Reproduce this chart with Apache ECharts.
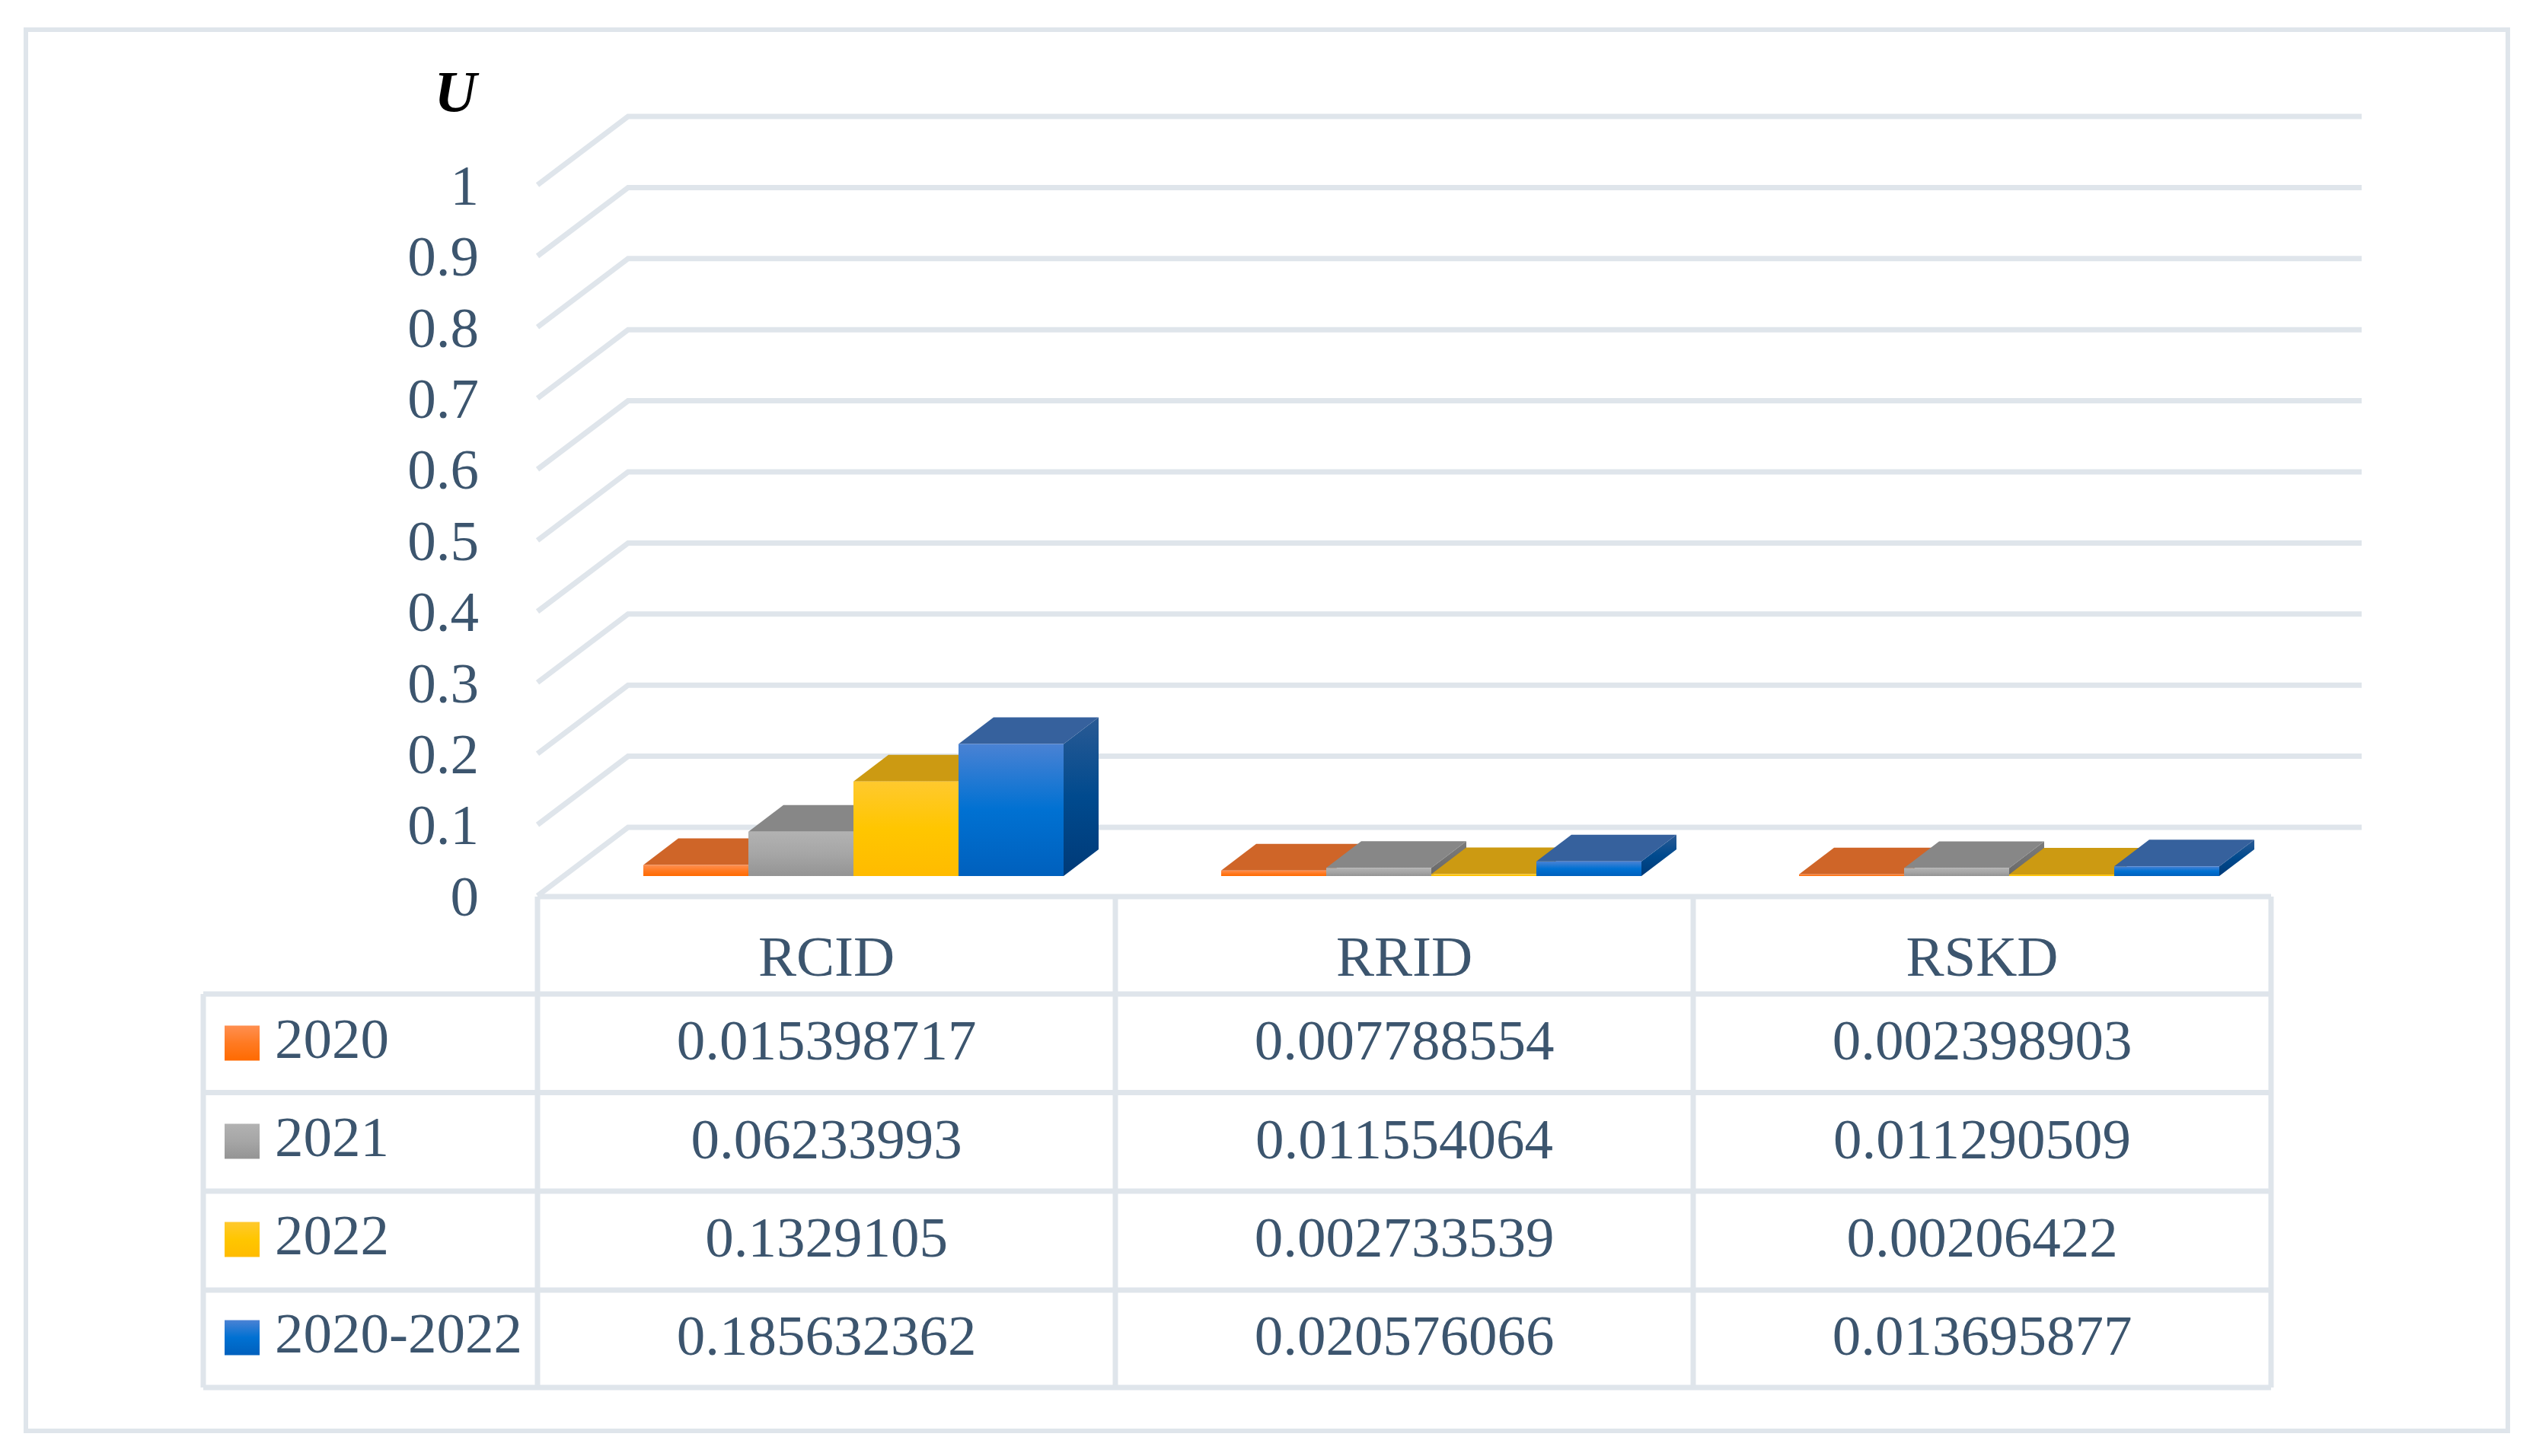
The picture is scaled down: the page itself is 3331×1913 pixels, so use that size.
<!DOCTYPE html>
<html>
<head>
<meta charset="utf-8">
<style>html,body{margin:0;padding:0;background:#fff}#c{width:3331px;height:1913px}</style>
<script src="https://cdn.jsdelivr.net/npm/echarts@6/dist/echarts.min.js"></script>
</head>
<body>
<div id="c"></div>
<script>
const categories = ['RCID', 'RRID', 'RSKD'];
const years = ['2020', '2021', '2022', '2020-2022'];
const values2020 = [0.015398717, 0.007788554, 0.002398903];
const values2021 = [0.06233993, 0.011554064, 0.011290509];
const values2022 = [0.1329105, 0.002733539, 0.00206422];
const valuesAll = [0.185632362, 0.020576066, 0.013695877];
const yTicks = [0, 0.1, 0.2, 0.3, 0.4, 0.5, 0.6, 0.7, 0.8, 0.9, 1];
const seriesValues = [values2020, values2021, values2022, valuesAll];

const TEXT = '#3c556e', RULE = '#dfe5eb', FONT = '"Liberation Serif", serif', FS = 75;
const grad = (stops) => ({type: 'linear', x: 0, y: 0, x2: 0, y2: 1,
  colorStops: stops.map((c, i) => ({offset: i / (stops.length - 1), color: c}))});
const palette = [
  {front: ['#ff8f50', '#ff7a22', '#ff6a00'], top: '#cf6528', side: ['#b35a20', '#a04c10']},
  {front: ['#b2b2b2', '#a6a6a6', '#949494'], top: '#878787', side: ['#7c7c7c', '#686868']},
  {front: ['#ffc92e', '#ffc600', '#ffbb00'], top: '#cc9a12', side: ['#b98d10', '#a07a00']},
  {front: ['#4a82d4', '#0071d2', '#0060bd'], top: '#36619d', side: ['#2a5a94', '#004a8e', '#003a78']}
];

// perspective of the pseudo-3D scene
const WALL_DX = 119, WALL_DY = -90, BAR_DX = 35.5, BAR_DY = -26, DEPTH_X = 46, DEPTH_Y = -35;

function renderWall(params, api) {
  const cs = params.coordSys;
  const y = api.coord([0, api.value(1)])[1];
  return {type: 'polyline', silent: true,
    shape: {points: [[cs.x, y], [cs.x + WALL_DX, y + WALL_DY], [cs.x + cs.width + WALL_DX, y + WALL_DY]]},
    style: {stroke: RULE, lineWidth: 7, fill: null, lineJoin: 'miter'}};
}

function barRenderer(idx) {
  return function (params, api) {
    const base = api.coord([api.value(0), 0]);
    const head = api.coord([api.value(0), api.value(1)]);
    const w = api.size([1, 0])[0] / 5.5;
    const x = base[0] - 2 * w + idx * w + BAR_DX;
    const y0 = base[1] + BAR_DY, y1 = head[1] + BAR_DY;
    const p = palette[idx];
    return {type: 'group', children: [
      {type: 'polygon', silent: true,
        shape: {points: [[x + w, y1], [x + w + DEPTH_X, y1 + DEPTH_Y], [x + w + DEPTH_X, y0 + DEPTH_Y], [x + w, y0]]},
        style: {fill: grad(p.side)}},
      {type: 'polygon', silent: true,
        shape: {points: [[x, y1], [x + DEPTH_X, y1 + DEPTH_Y], [x + w + DEPTH_X, y1 + DEPTH_Y], [x + w, y1]]},
        style: {fill: p.top}},
      {type: 'rect', silent: true,
        shape: {x: x, y: y1, width: w, height: y0 - y1},
        style: {fill: grad(p.front)}}
    ]};
  };
}

function renderCell(params, api) {
  const c = api.coord([api.value(0), api.value(1)]);
  return {type: 'text', silent: true,
    style: {x: c[0], y: c[1] + 2, text: String(api.value(2)), align: 'center', verticalAlign: 'middle',
      fill: TEXT, font: FS + 'px ' + FONT}};
}

const cellData = [];
seriesValues.forEach((vals, r) => vals.forEach((v, c) => cellData.push([categories[c], years[r], v])));

// table and frame rules (decoration only)
const L = 267, A = 706, C1 = 1465, C2 = 2224, R = 2983, T0 = 1178, T1 = 1306, T2 = 1435.5, T3 = 1565, T4 = 1695, T5 = 1823;
const rule = (x1, y1, x2, y2) => ({type: 'line', silent: true, shape: {x1, y1, x2, y2},
  style: {stroke: RULE, lineWidth: 7}});
const rules = [
  rule(A, T0, R, T0), rule(L, T1, R, T1), rule(L, T2, R, T2), rule(L, T3, R, T3), rule(L, T4, R, T4), rule(L, T5, R, T5),
  rule(L, T1, L, T5), rule(A, T0, A, T5), rule(C1, T0, C1, T5), rule(C2, T0, C2, T5), rule(R, T0, R, T5),
  {type: 'rect', silent: true, shape: {x: 34, y: 39, width: 3260, height: 1841},
    style: {fill: null, stroke: RULE, lineWidth: 6}}
];

const chart = echarts.init(document.getElementById('c'), null, {renderer: 'canvas'});
chart.setOption({
  animation: false,
  backgroundColor: '#ffffff',
  graphic: {elements: rules},
  legend: {
    orient: 'vertical', left: 295, top: 1333, padding: 0, itemWidth: 46, itemHeight: 46, itemGap: 54,
    selectedMode: false, icon: 'rect',
    textStyle: {color: TEXT, fontFamily: FONT, fontSize: FS, lineHeight: 46, padding: [0, 0, 0, 15]},
    data: years.map((n, i) => ({name: n, itemStyle: {color: grad(palette[i].front)}}))
  },
  grid: [
    {left: A, top: 243, width: R - A, height: 934},
    {left: A, top: T1, width: R - A, height: T5 - T1}
  ],
  xAxis: [
    {type: 'category', gridIndex: 0, data: categories,
      axisLine: {show: false}, axisTick: {show: false}, splitLine: {show: false},
      axisLabel: {color: TEXT, fontFamily: FONT, fontSize: FS, margin: 85, verticalAlign: 'middle'}},
    {type: 'category', gridIndex: 1, data: categories, show: false}
  ],
  yAxis: [
    {type: 'value', gridIndex: 0, min: 0, max: 1, interval: 0.1,
      name: 'U', nameLocation: 'end', nameGap: 117,
      nameTextStyle: {color: '#000', fontFamily: FONT, fontSize: 77, fontWeight: 'bold', fontStyle: 'italic',
        align: 'right', verticalAlign: 'middle', padding: [0, 80, 0, 0]},
      axisLine: {show: false}, axisTick: {show: false}, splitLine: {show: false},
      axisLabel: {color: TEXT, fontFamily: FONT, fontSize: FS, margin: 77, verticalAlign: 'top', lineHeight: 12}},
    {type: 'category', gridIndex: 1, data: years, inverse: true, show: false}
  ],
  series: [
    {type: 'custom', name: 'wall', xAxisIndex: 0, yAxisIndex: 0, z: 1, silent: true,
      data: yTicks.map(t => [categories[0], t]), renderItem: renderWall},
    ...years.map((n, i) => ({
      type: 'custom', name: n, xAxisIndex: 0, yAxisIndex: 0, z: 2 + i, silent: true,
      itemStyle: {color: grad(palette[i].front)},
      data: seriesValues[i].map((v, c) => [categories[c], v]),
      renderItem: barRenderer(i)
    })),
    {type: 'custom', name: 'table', xAxisIndex: 1, yAxisIndex: 1, z: 8, silent: true,
      data: cellData, renderItem: renderCell}
  ]
});
</script>
</body>
</html>
